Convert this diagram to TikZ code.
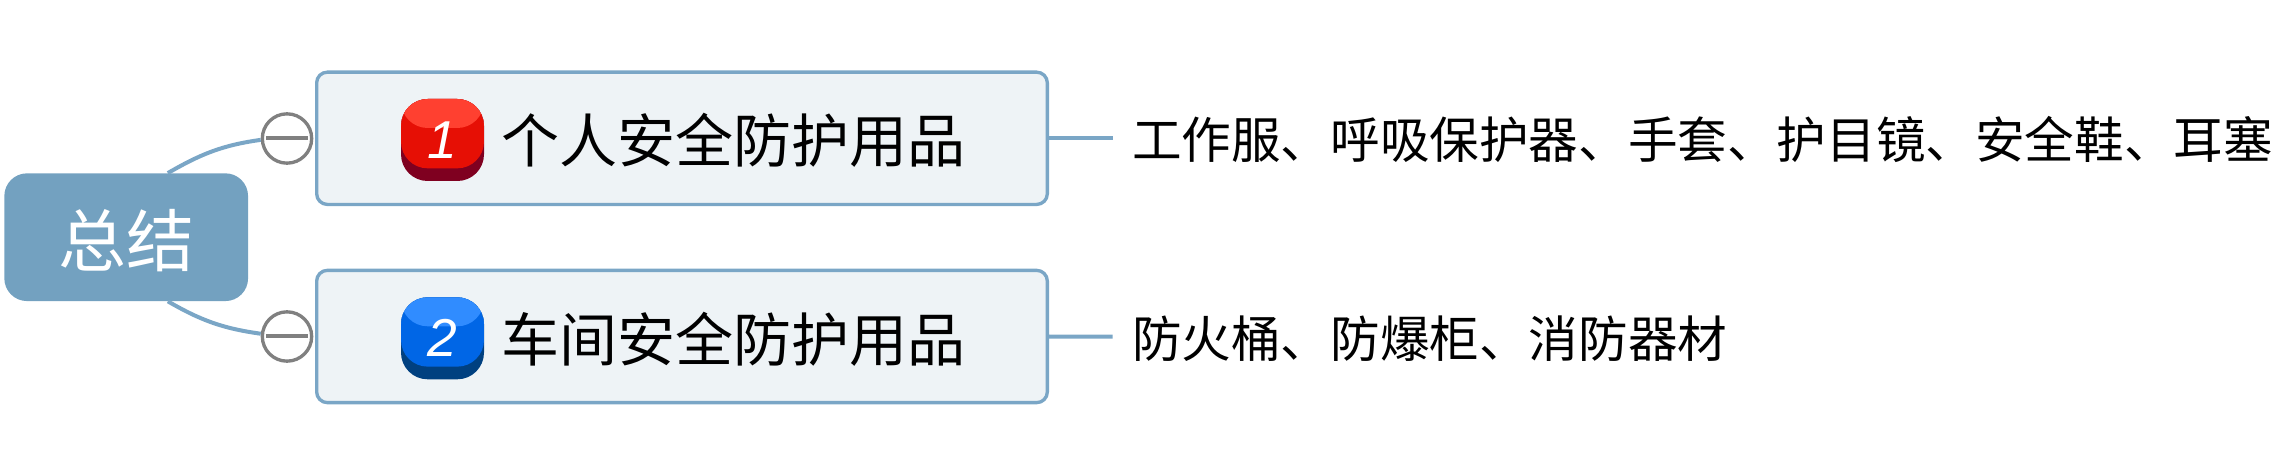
\documentclass[tikz,border=0pt]{standalone}
\usepackage{fontspec}
\setmainfont{Noto Sans CJK SC}
\setsansfont{Liberation Sans}
\usepackage{xcolor}
\usetikzlibrary{positioning}
\definecolor{Steel}{HTML}{73A1C0}
\definecolor{SteelLine}{HTML}{7AA6C6}
\definecolor{Mist}{HTML}{EEF3F6}
\definecolor{FoldGray}{HTML}{808080}
\definecolor{RedTop}{HTML}{FF4030}
\definecolor{RedMid}{HTML}{E60F05}
\definecolor{RedLow}{HTML}{7F0020}
\definecolor{BlueTop}{HTML}{308CFF}
\definecolor{BlueMid}{HTML}{0066E6}
\definecolor{BlueLow}{HTML}{004080}
\tikzset{
  rootbox/.style={fill=Steel,text=white,rounded corners=17pt,minimum width=182.8pt,minimum height=95.8pt,inner sep=0pt,text height=44pt,text depth=0pt,font=\fontsize{51}{56}\selectfont},
  topicbox/.style={fill=Mist,draw=SteelLine,line width=2.5pt,rounded corners=8pt,minimum width=548pt,minimum height=99.2pt},
  foldmark/.style={circle,fill=white,draw=FoldGray,line width=2.5pt,minimum size=37pt,inner sep=0pt},
  foldbar/.style={draw=FoldGray,line width=3pt,shorten <=4.2pt,shorten >=4.2pt},
  titletext/.style={anchor=west,inner sep=0pt,text height=38.3pt,text depth=5.2pt,font=\fontsize{43.5}{50}\selectfont},
  leaftext/.style={anchor=west,inner ysep=0pt,inner xsep=14.3pt,text height=31pt,text depth=0pt,font=\fontsize{37.2}{44}\selectfont},
  link/.style={draw=SteelLine,line width=3pt},
  numicon/.style n args={3}{rectangle,fill=#3,rounded corners=20pt,minimum width=62.25pt,minimum height=61.5pt,inner sep=0pt,text=white,
    font=\fontsize{40}{40}\sffamily\itshape\selectfont,
    path picture={
      \fill[#2,rounded corners=20pt] (path picture bounding box.north west) rectangle ([yshift=9.5pt]path picture bounding box.south east);
      \fill[#1] (path picture bounding box.north west) rectangle ([yshift=-21.75pt]path picture bounding box.north east);
    }},
}

\begin{document}
\begin{tikzpicture}[x=0.75pt,y=0.75pt]
  \useasboundingbox (0,0) rectangle (2286,464);

  % Root and the two topics
  \node[rootbox] (root) at (126.2,226.8) {总结};
  \node[topicbox] (topic1) at (682,325.7) {};
  \node[topicbox] (topic2) at (682,127.5) {};

  % Fold marks
  \node[foldmark] (fold1) at (287,325.5) {};
  \node[foldmark] (fold2) at (287,127.5) {};
  \draw[foldbar] (fold1.west) -- (fold1.east);
  \draw[foldbar] (fold2.west) -- (fold2.east);

  % Number icons
  \node[numicon={RedTop}{RedMid}{RedLow}] (icon1) at (442.5,324) {1};
  \node[numicon={BlueTop}{BlueMid}{BlueLow}] (icon2) at (442.5,125.7) {2};

  % Topic titles
  \node[titletext] (title1) at (501,323.5) {个人安全防护用品};
  \node[titletext] (title2) at (501,124.5) {车间安全防护用品};

  % Leaves
  \node[leaftext] (leaf1) at (1112.7,325.7) {工作服、呼吸保护器、手套、护目镜、安全鞋、耳塞};
  \node[leaftext] (leaf2) at (1112.7,127.3) {防火桶、防爆柜、消防器材};

  % Connectors
  \draw[link] (root.57) to[out=30,in=188] (fold1.183);
  \draw[link] (root.-57) to[out=-30,in=172] (fold2.174);
  \draw[link] (topic1.east) -- (leaf1.west);
  \draw[link] (topic2.east) -- (leaf2.west);
\end{tikzpicture}
\end{document}
